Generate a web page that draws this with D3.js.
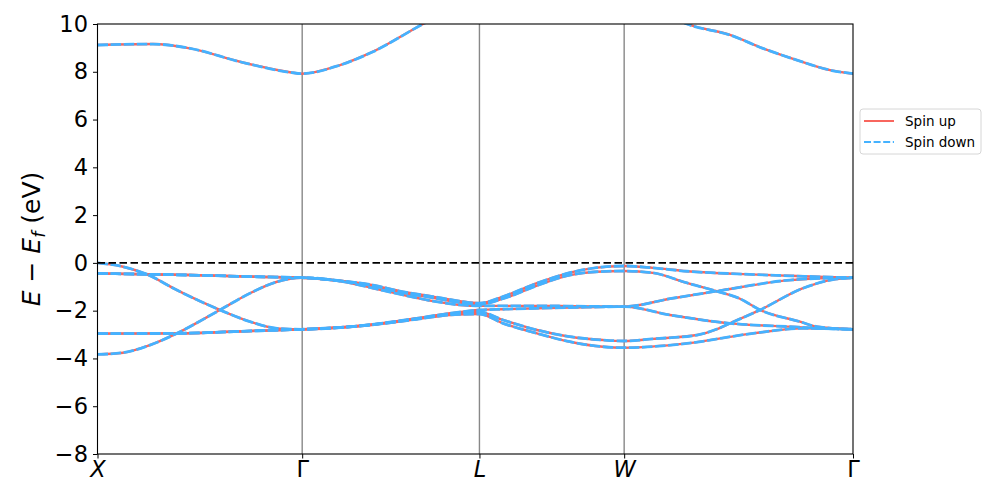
<!DOCTYPE html>
<meta charset="utf-8">
<style>
body { margin: 0; background: #fff; }
text { font-family: "DejaVu Sans", sans-serif; }
</style>
<body>
<script src="https://d3js.org/d3.v7.min.js"></script>
<script>

// high symmetry points along the path (k distance, 2pi/a units)
var kpoints = [0, 1.0, 1.866, 2.573, 3.691];
var klabels = ["X", "Γ", "L", "W", "Γ"];
var yticks = [-8, -6, -4, -2, 0, 2, 4, 6, 8, 10];

// bands: [k, E - Ef]
var band1 = [[0,-0.44],[0.452,-0.51],[0.779,-0.58],[1.0,-0.62],
  [1.199,-0.76],[1.346,-0.93],[1.476,-1.18],[1.639,-1.41],[1.771,-1.6],[1.866,-1.69],
  [1.981,-1.41],[2.147,-0.85],[2.308,-0.41],[2.44,-0.2],[2.573,-0.13],
  [2.714,-0.21],[2.88,-0.35],[3.124,-0.46],[3.383,-0.54],[3.593,-0.6],[3.691,-0.62]];
var band2 = [[0,-0.44],[0.452,-0.51],[0.779,-0.58],[1.0,-0.62],
  [1.199,-0.77],[1.346,-0.96],[1.476,-1.22],[1.639,-1.46],[1.771,-1.66],[1.866,-1.74],
  [1.981,-1.5],[2.147,-0.95],[2.308,-0.51],[2.44,-0.37],[2.573,-0.34],
  [2.714,-0.42],[2.88,-0.84],[3.027,-1.19],[3.139,-1.5],[3.237,-1.97],[3.432,-2.46],[3.515,-2.67],[3.691,-2.78]];
var band3 = [[0,-3.83],[0.125,-3.76],[0.256,-3.44],[0.388,-2.95],[0.598,-1.97],[0.745,-1.27],[0.877,-0.79],[1.0,-0.62],
  [1.199,-0.78],[1.346,-1.06],[1.476,-1.31],[1.639,-1.6],[1.771,-1.76],[1.866,-1.8],
  [1.981,-1.8],[2.147,-1.8],[2.308,-1.81],[2.573,-1.83],
  [2.797,-1.5],[3.027,-1.18],[3.383,-0.72],[3.593,-0.63],[3.691,-0.62]];
var band4 = [[0,0],[0.125,-0.16],[0.242,-0.48],[0.388,-1.14],[0.598,-1.97],[0.745,-2.46],[0.877,-2.74],[1.0,-2.78],
  [1.317,-2.6],[1.559,-2.32],[1.722,-2.11],[1.866,-1.97],
  [1.981,-1.94],[2.147,-1.9],[2.308,-1.87],[2.573,-1.83],
  [2.797,-2.18],[3.09,-2.53],[3.383,-2.67],[3.593,-2.76],[3.691,-2.78]];
var band5 = [[0,-2.96],[0.388,-2.95],[0.779,-2.84],[1.0,-2.78],
  [1.317,-2.61],[1.559,-2.34],[1.722,-2.14],[1.866,-2.05],
  [1.981,-2.39],[2.147,-2.81],[2.308,-3.09],[2.47,-3.23],[2.573,-3.27],
  [2.714,-3.18],[2.929,-3.02],[3.027,-2.77],[3.09,-2.53],[3.237,-1.97],[3.447,-1.06],[3.593,-0.7],[3.691,-0.62]];
var band6 = [[0,-2.96],[0.388,-2.95],[0.779,-2.84],[1.0,-2.78],
  [1.317,-2.62],[1.559,-2.36],[1.722,-2.18],[1.866,-2.14],
  [1.981,-2.53],[2.147,-2.95],[2.308,-3.3],[2.47,-3.51],[2.573,-3.55],
  [2.88,-3.37],[3.203,-2.95],[3.447,-2.74],[3.691,-2.78]];
var band7 = [[0,9.12],[0.271,9.16],[0.452,8.98],[0.696,8.42],[0.94,7.98],[1.0,7.92],
  [1.185,8.28],[1.346,8.84],[1.59,10.0],[1.866,11.2],[2.573,11.5],
  [2.88,10.0],[3.09,9.54],[3.251,8.98],[3.417,8.49],[3.579,8.07],[3.691,7.92]];

var bands = [band1, band2, band3, band4, band5, band6, band7];
// spin up and spin down are on top of each other in the picture
var spinUp = bands, spinDown = bands;

var margin = {top: 24, right: 144, bottom: 44, left: 97.5},
    width = 997 - margin.left - margin.right,
    height = 498 - margin.top - margin.bottom;

var x = d3.scaleLinear().domain([0, 3.691]).range([0, width]);
var y = d3.scaleLinear().domain([-8, 10]).range([height, 0]);

var svg = d3.select("body").append("svg")
    .attr("width", 997)
    .attr("height", 498)
  .append("g")
    .attr("transform", "translate(" + margin.left + "," + margin.top + ")");

svg.append("clipPath").attr("id", "clip")
  .append("rect").attr("width", width).attr("height", height);

var plot = svg.append("g").attr("clip-path", "url(#clip)");

// vertical lines at the high symmetry points
plot.selectAll(".kline")
    .data(kpoints.slice(1, 4))
  .enter().append("line")
    .attr("x1", function(d) { return x(d); })
    .attr("x2", function(d) { return x(d); })
    .attr("y1", 0).attr("y2", height)
    .style("stroke", "#888").style("stroke-width", 1.4);

var line = d3.line()
    .x(function(d) { return x(d[0]); })
    .y(function(d) { return y(d[1]); })
    .curve(d3.curveMonotoneX);

plot.selectAll(".up")
    .data(spinUp)
  .enter().append("path")
    .attr("d", line)
    .style("fill", "none")
    .style("stroke", "#f8665e")
    .style("stroke-width", 2.4);

plot.selectAll(".down")
    .data(spinDown)
  .enter().append("path")
    .attr("d", line)
    .style("fill", "none")
    .style("stroke", "#45b2ff")
    .style("stroke-width", 2.8)
    .style("stroke-dasharray", "10.5,2.6");

// fermi level
plot.append("line")
    .attr("x1", 0).attr("x2", width)
    .attr("y1", y(0)).attr("y2", y(0))
    .style("stroke", "#000").style("stroke-width", 1.9)
    .style("stroke-dasharray", "7.5,3.5");

// axes
var yAxis = svg.append("g")
    .call(d3.axisLeft(y).tickValues(yticks).tickSize(4.5).tickPadding(5)
      .tickFormat(function(d) { return d < 0 ? "\u2212" + (-d) : d; }));
var xAxis = svg.append("g")
    .attr("transform", "translate(0," + height + ")")
    .call(d3.axisBottom(x).tickValues(kpoints).tickSize(4.5).tickPadding(3)
      .tickFormat(function(d, i) { return klabels[i]; }));

yAxis.select(".domain").remove();
xAxis.select(".domain").remove();
svg.selectAll(".tick line").style("stroke", "#000").style("stroke-width", 1);
svg.selectAll(".tick text")
    .style("font-family", "DejaVu Sans").style("font-size", "22.5px").style("fill", "#000");
xAxis.selectAll(".tick text")
    .style("font-style", function(d, i) { return klabels[i] == "Γ" ? "normal" : "italic"; });

// frame
svg.append("rect")
    .attr("width", width).attr("height", height)
    .style("fill", "none").style("stroke", "#000").style("stroke-width", 1.1);

// y label
var ylab = svg.append("text")
    .attr("text-anchor", "middle")
    .attr("transform", "translate(" + -58 + "," + (height / 2) + ")rotate(-90)")
    .style("font-size", "25px");
ylab.append("tspan").style("font-style", "italic").text("E");
ylab.append("tspan").text(" \u2212 ");
ylab.append("tspan").style("font-style", "italic").text("E");
ylab.append("tspan").style("font-style", "italic").style("font-size", "17.5px").attr("dy", 5).text("f");
ylab.append("tspan").attr("dy", -5).text(" (eV)");

// legend
var legend = svg.append("g")
    .attr("transform", "translate(" + (width + 7) + ",85)");
legend.append("rect")
    .attr("width", 121).attr("height", 45).attr("rx", 3)
    .style("fill", "#fff").style("stroke", "#d6d6d6");
var entries = [{name: "Spin up", color: "#f8665e", dash: null},
               {name: "Spin down", color: "#45b2ff", dash: "7,2.6"}];
var le = legend.selectAll(".legend")
    .data(entries)
  .enter().append("g")
    .attr("transform", function(d, i) { return "translate(0," + (12 + i * 21) + ")"; });
le.append("line")
    .attr("x1", 4).attr("x2", 34)
    .style("stroke", function(d) { return d.color; })
    .style("stroke-width", 2)
    .style("stroke-dasharray", function(d) { return d.dash; });
le.append("text")
    .attr("x", 45).attr("dy", ".35em")
    .style("font-size", "13.5px")
    .text(function(d) { return d.name; });

</script>
</body>
